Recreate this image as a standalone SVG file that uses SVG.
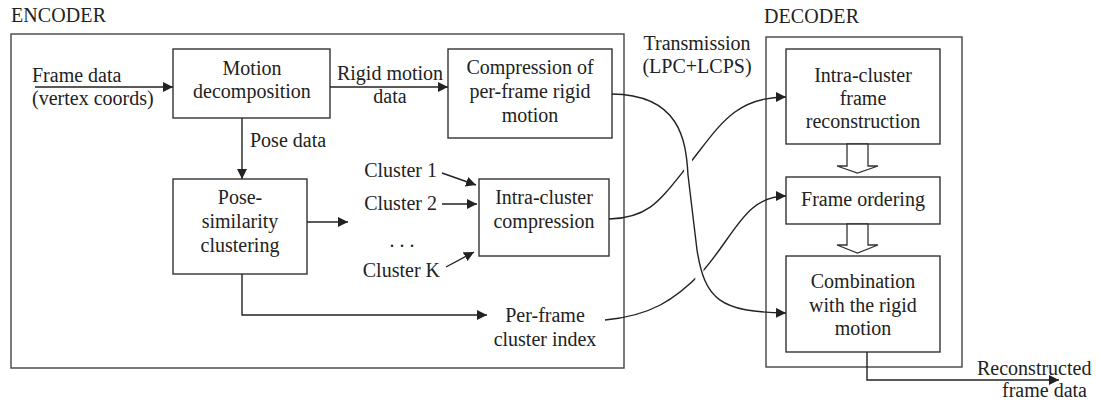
<svg xmlns="http://www.w3.org/2000/svg" width="1097" height="404" viewBox="0 0 1097 404">
<style>
text{font-family:"Liberation Serif","Times New Roman",serif;font-size:20px;fill:#222}
.c{text-anchor:middle}
.e{text-anchor:end}
.box{fill:#fff;stroke:#333;stroke-width:1.4}
.outer{fill:none;stroke:#444;stroke-width:1.4}
.ln{fill:none;stroke:#222;stroke-width:1.4}
.arr{marker-end:url(#ah)}
.hollow{fill:#fff;stroke:#333;stroke-width:1.3}
</style>
<defs>
<marker id="ah" markerUnits="userSpaceOnUse" markerWidth="10" markerHeight="10" refX="10" refY="5" orient="auto">
<path d="M0,0 L10,5 L0,10 z" fill="#222"/>
</marker>
</defs>
<rect width="1097" height="404" fill="#fff"/>

<g id="encoder">
<rect class="outer" x="11" y="34" width="613" height="334"/>
<text x="11" y="22" textLength="95">ENCODER</text>
</g>
<g id="decoder">
<rect class="outer" x="766" y="37" width="196" height="330"/>
<text x="764" y="23" textLength="95">DECODER</text>
</g>

<g id="frame-data-in">
<text x="32" y="82">Frame data</text>
<text x="32" y="105">(vertex coords)</text>
</g>
<g id="motion-decomposition">
<rect class="box" x="173" y="49" width="157" height="69"/>
<text class="c" x="252" y="75">Motion</text>
<text class="c" x="252" y="98">decomposition</text>
</g>
<g id="rigid-label">
<text class="c" x="390" y="80">Rigid motion</text>
<text class="c" x="390" y="103">data</text>
</g>
<g id="compression-rigid">
<rect class="box" x="448" y="49" width="164" height="89"/>
<text class="c" x="530" y="74">Compression of</text>
<text class="c" x="530" y="98">per-frame rigid</text>
<text class="c" x="530" y="122">motion</text>
</g>
<g id="pose-label">
<text x="250" y="147">Pose data</text>
</g>
<g id="pose-clustering">
<rect class="box" x="173" y="179" width="134" height="95"/>
<text class="c" x="240" y="204">Pose-</text>
<text class="c" x="240" y="228">similarity</text>
<text class="c" x="240" y="252">clustering</text>
</g>
<g id="clusters">
<text class="e" x="437" y="177">Cluster 1</text>
<text class="e" x="437" y="210">Cluster 2</text>
<text class="c" x="402" y="247">. . .</text>
<text class="e" x="440" y="277">Cluster K</text>
</g>
<g id="intra-compression">
<rect class="box" x="479" y="179" width="130" height="77"/>
<text class="c" x="544" y="204">Intra-cluster</text>
<text class="c" x="544" y="228">compression</text>
</g>
<g id="cluster-index">
<text class="c" x="545" y="322">Per-frame</text>
<text class="c" x="545" y="346">cluster index</text>
</g>
<g id="transmission">
<text class="c" x="697" y="50">Transmission</text>
<text class="c" x="697" y="73">(LPC+LCPS)</text>
</g>
<g id="intra-reconstruction">
<rect class="box" x="786" y="49" width="154" height="95"/>
<text class="c" x="863" y="82">Intra-cluster</text>
<text class="c" x="863" y="105">frame</text>
<text class="c" x="863" y="128">reconstruction</text>
</g>
<g id="frame-ordering">
<rect class="box" x="786" y="177" width="154" height="47"/>
<text class="c" x="863" y="206">Frame ordering</text>
</g>
<g id="combination">
<rect class="box" x="786" y="256" width="154" height="96"/>
<text class="c" x="863" y="288">Combination</text>
<text class="c" x="863" y="312">with the rigid</text>
<text class="c" x="863" y="335">motion</text>
</g>
<g id="output-label">
<text x="977" y="375">Reconstructed</text>
<text x="1002" y="397">frame data</text>
</g>

<g id="connectors">
<path class="ln arr" d="M35,87 L173,87"/>
<path class="ln arr" d="M330,87 L448,87"/>
<path class="ln arr" d="M242,118 L242,179"/>
<path class="ln arr" d="M307,222 L348,222"/>
<path class="ln arr" d="M242,274 L242,315 L487,315"/>
<path class="ln arr" d="M442,173 L476,185"/>
<path class="ln arr" d="M442,204 L477,204"/>
<path class="ln arr" d="M446,267 L474,252"/>
<path class="ln arr" d="M609,219 C650,218 660,200 690,163 C720,125 735,97 786,97"/>
<path class="ln arr" d="M605,320 C650,316 675,300 702,272 C735,235 745,196 786,196"/>
<path d="M686,145 L700,280" fill="none" stroke="#fff" stroke-width="9"/>
<path class="ln arr" d="M612,94 C680,95 686,140 688,175 L697,250 C705,300 720,312 786,313"/>
<polygon class="hollow" points="847,144 868,144 868,166 878,166 857.5,173 837,166 847,166"/>
<polygon class="hollow" points="847,224 868,224 868,245 878,245 857.5,253 837,245 847,245"/>
<path class="ln arr" d="M867,352 L867,380 L1059,380"/>
</g>
</svg>
